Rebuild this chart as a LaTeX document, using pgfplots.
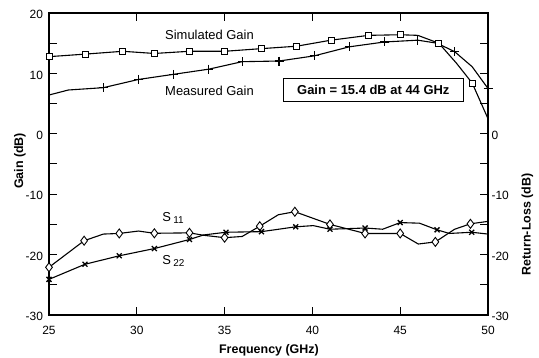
\documentclass[border=0pt]{standalone}
\usepackage{fontspec}
\setmainfont{Liberation Sans}
\usepackage{pgfplots}
\pgfplotsset{compat=1.18}
\begin{document}
\begin{tikzpicture}
\begin{axis}[
  scale only axis, width=439bp, height=302bp,
  xmin=25, xmax=50, ymin=-30, ymax=20,
  xtick={25,30,...,50}, ytick={-30,-20,...,20},
  minor ytick={-25,-15,...,15},
  tick align=inside, tick pos=both,
  xticklabel pos=left, yticklabel pos=left,
  major tick length=8bp, minor tick length=8bp,
  axis line style={line width=1.6bp},
  every tick/.style={line width=1bp, black},
  every minor tick/.style={line width=1bp, black},
  ticklabel style={font=\fontsize{12}{12}\selectfont},
  /pgf/number format/assume math mode=true,
  yticklabel style={xshift=-2.5bp, yshift=-1.5bp},
  xticklabel style={yshift=-7.5bp},
  clip=false,
]
\coordinate (SW) at (rel axis cs:0,0);
\coordinate (NE) at (rel axis cs:1,1);
% Simulated gain
\addplot[black, line width=1.1bp, mark=square*, mark size=3bp,
  mark options={fill=white, solid, line width=0.9bp},
  mark indices={1,2,3,4,5,6,7,8,9,10,11,13,15}] coordinates {
(25,12.77) (27.1,13.2) (29.2,13.66) (31,13.3) (33,13.66) (35,13.66)
(37.1,14.1) (39.1,14.5) (41.06,15.5) (43.2,16.3) (45,16.4) (46,16.3)
(47.2,15.0) (48.2,11.7) (49.1,8.4) (50,2.5)
};
% Measured gain
\addplot[black, line width=1.1bp, mark=+, mark size=4.5bp,
  mark options={solid, line width=1.2bp},
  mark indices={3,4,5,6,7,8,9,10,11,12,14,16}] coordinates {
(25,6.42) (26.1,7.25) (28.1,7.64) (30.1,9.0) (32.1,9.85) (34.1,10.7)
(36,11.94) (38.1,12.05) (40.1,12.9) (42.1,14.4) (44.1,15.2) (46,15.5)
(47.1,15.0) (48.1,13.6) (49.1,11.1) (50,7.5)
};
% S11
\addplot[black, line width=1.1bp, mark=diamond*, mark size=4.5bp,
  mark options={fill=white, solid, line width=0.9bp},
  mark indices={1,2,4,6,7,9,11,13,14,15,16,18,20}] coordinates {
(25,-22.1) (27,-17.7) (28.1,-16.6) (29,-16.5) (30.1,-16.1) (31,-16.47)
(33,-16.4) (33.8,-16.8) (35,-17.2) (36,-17.0) (37,-15.3) (38.06,-13.4)
(39,-12.9) (41,-15.0) (43,-16.5) (45,-16.5) (46.03,-18.25) (47,-17.9)
(48.1,-15.8) (49,-14.9) (50,-14.5)
};
% S22
\addplot[black, line width=1.1bp, mark=x, mark size=3.5bp,
  mark options={solid, line width=1.3bp},
  mark indices={1,2,3,4,5,7,8,9,11,12,14,16,18}] coordinates {
(25,-24.1) (27.05,-21.6) (29,-20.2) (31,-19.0) (33,-17.5) (33.8,-16.75)
(35.08,-16.3) (37.1,-16.2) (39.05,-15.4) (40.05,-15.2) (41,-15.8)
(43,-15.6) (44,-15.8) (45,-14.7) (46.1,-14.8) (47.1,-15.9) (47.8,-16.5)
(49.07,-16.3) (50,-16.6)
};
\node[anchor=base, inner sep=0, font=\fontsize{13}{13}\selectfont] at (axis cs:34.14,15.53) {Simulated Gain};
\node[anchor=base, inner sep=0, font=\fontsize{13}{13}\selectfont] at (axis cs:34.14,6.26) {Measured Gain};
\node[draw, line width=1.5bp, fill=white, inner sep=0,
  minimum width=180bp, minimum height=23bp,
  font=\bfseries\fontsize{13}{13}\selectfont] at (axis cs:43.47,7.22) {Gain = 15.4 dB at 44 GHz};
\node[anchor=base west, inner sep=0, font=\fontsize{13}{13}\selectfont] at (axis cs:31.45,-14.55) {S\,\raisebox{-1.5bp}{\fontsize{10}{10}\selectfont 11}};
\node[anchor=base west, inner sep=0, font=\fontsize{13}{13}\selectfont] at (axis cs:31.45,-21.72) {S\,\raisebox{-1.5bp}{\fontsize{10}{10}\selectfont 22}};
\node[rotate=90, anchor=north, inner sep=0, font=\bfseries\fontsize{12.5}{12.5}\selectfont] at ([xshift=-35bp]rel axis cs:0,0.51) {Gain (dB)};
\node[rotate=90, anchor=north, inner sep=0, font=\bfseries\fontsize{12.5}{12.5}\selectfont] at ([xshift=33.5bp]rel axis cs:1,0.30) {Return-Loss (dB)};
\node[anchor=north, inner sep=0, font=\bfseries\fontsize{12.5}{12.5}\selectfont] at ([yshift=-29bp]rel axis cs:0.501,0) {Frequency (GHz)};
\end{axis}
\begin{axis}[
  scale only axis, width=439bp, height=302bp,
  xmin=25, xmax=50, ymin=-30, ymax=20,
  axis x line=none, axis y line*=right,
  axis line style={draw=none},
  ytick={-30,-20,-10,0}, major tick length=0pt,
  ticklabel style={font=\fontsize{12}{12}\selectfont},
  /pgf/number format/assume math mode=true,
  yticklabel style={yshift=-1.5bp},
]
\end{axis}
\pgfresetboundingbox
\path ([shift={(-49bp,-43bp)}]SW) rectangle ([shift={(51bp,13bp)}]NE);
\end{tikzpicture}
\end{document}
